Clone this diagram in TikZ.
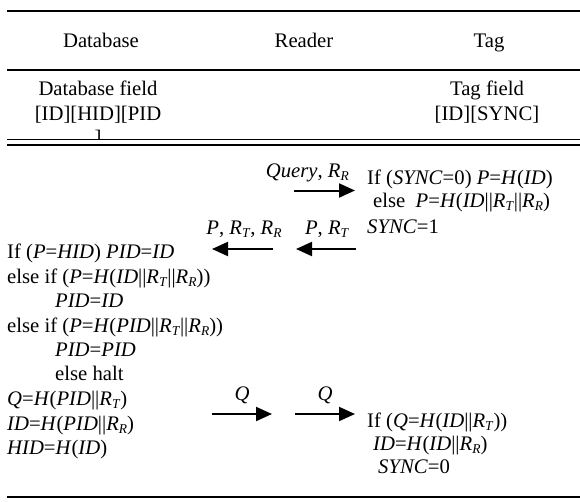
\documentclass[tikz,border=0pt]{standalone}
\usepackage{fontspec}
\setmainfont{Liberation Serif}
\usetikzlibrary{arrows.meta}
\newcommand\mi[1]{\textit{#1}}
\newcommand\sbs[1]{\raisebox{-0.15em}{\fontsize{13.5pt}{14pt}\selectfont\textit{#1}}}
\newcommand\RT{\mi{R}\sbs{T}}
\newcommand\RR{\mi{R}\sbs{R}}
\begin{document}
\begin{tikzpicture}[x=1pt,y=-1pt,
  every node/.style={inner sep=0pt,font=\fontsize{20.7pt}{24pt}\selectfont},
  txt/.style={anchor=base west},
  hdr/.style={anchor=base},
  msg/.style={line width=2pt,-{Triangle[length=16pt,width=14pt]}},
  thinrule/.style={line width=1.2pt},
  thickrule/.style={line width=2.5pt}]
\useasboundingbox (0,0) rectangle (580,501);
% rules
\draw[thinrule] (7,11) -- (580,11);
\draw[thickrule] (7,70) -- (580,70);
\draw[thinrule] (7,139.3) -- (580,139.3);
\draw[thinrule] (7,145) -- (580,145);
\draw[thickrule] (7,497) -- (580,497);
% header
\node[hdr] (hdb) at (101,47) {Database};
\node[hdr] (hrd) at (304,47) {Reader};
\node[hdr] (htg) at (489,47) {Tag};
\node[hdr] (dbf1) at (98,95) {Database field};
\node[hdr] (dbf2) at (98,120) {[ID][HID][PID};
\begin{scope}
\clip (0,0) rectangle (580,138.6);
\node[hdr] (dbf3) at (98,144) {]};
\end{scope}
\node[hdr] (tgf1) at (487,95) {Tag field};
\node[hdr] (tgf2) at (487,120) {[ID][SYNC]};
% tag block 1
\node[txt] (t1) at (367,184) {If (\mi{SYNC}=0) \mi{P}=\mi{H}(\mi{ID})};
\node[txt] (t2) at (373,207) {else\ \ \mi{P}=\mi{H}(\mi{ID}||\RT||\RR)};
\node[txt] (t3) at (367,233) {\mi{SYNC}=1};
% message 1
\coordinate (m1s) at (294,190.5);
\coordinate (m1e) at (355,190.5);
\draw[msg] (m1s) -- (m1e);
\node[anchor=base east] (l1) at (349,177) {\mi{Query}, \RR};
% messages 2,3
\coordinate (m2s) at (356,249);
\coordinate (m2e) at (296,249);
\draw[msg] (m2s) -- (m2e);
\node[anchor=base] (l2) at (327,234) {\mi{P}, \RT};
\coordinate (m3s) at (273,249);
\coordinate (m3e) at (212,249);
\draw[msg] (m3s) -- (m3e);
\node[anchor=base] (l3) at (244,234) {\mi{P}, \RT, \RR};
% database block
\node[txt] (d1) at (7,258) {If (\mi{P}=\mi{HID}) \mi{PID}=\mi{ID}};
\node[txt] (d2) at (7,283) {else if (\mi{P}=\mi{H}(\mi{ID}||\RT||\RR))};
\node[txt] (d3) at (55,307) {\mi{PID}=\mi{ID}};
\node[txt] (d4) at (7,332) {else if (\mi{P}=\mi{H}(\mi{PID}||\RT||\RR))};
\node[txt] (d5) at (55,356) {\mi{PID}=\mi{PID}};
\node[txt] (d6) at (55,380) {else halt};
\node[txt] (d7) at (7,405) {\mi{Q}=\mi{H}(\mi{PID}||\RT)};
\node[txt] (d8) at (7,430) {\mi{ID}=\mi{H}(\mi{PID}||\RR)};
\node[txt] (d9) at (7,454) {\mi{HID}=\mi{H}(\mi{ID})};
% messages 4,5
\coordinate (m4s) at (212,414);
\coordinate (m4e) at (272,414);
\draw[msg] (m4s) -- (m4e);
\node[anchor=base] (l4) at (242,400) {\mi{Q}};
\coordinate (m5s) at (295,414);
\coordinate (m5e) at (355,414);
\draw[msg] (m5s) -- (m5e);
\node[anchor=base] (l5) at (325,400) {\mi{Q}};
% tag block 2
\node[txt] (t4) at (367,427) {If (\mi{Q}=\mi{H}(\mi{ID}||\RT))};
\node[txt] (t5) at (373,450) {\mi{ID}=\mi{H}(\mi{ID}||\RR)};
\node[txt] (t6) at (378,473) {\mi{SYNC}=0};
\end{tikzpicture}
\end{document}
